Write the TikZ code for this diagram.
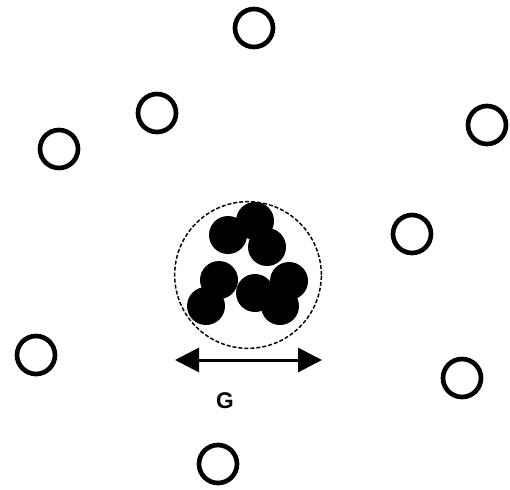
\documentclass[tikz,border=0pt]{standalone}
\usepackage{fontspec}
\setmainfont{Liberation Sans}
\usetikzlibrary{arrows.meta}
\begin{document}
\begin{tikzpicture}[x=0.75pt,y=0.75pt,yscale=-1,xscale=1,
  free/.style={draw,circle,line width=3.5pt,minimum size=28.5pt,inner sep=0pt},
  bound/.style={fill,circle,minimum size=28.5pt,inner sep=0pt},
  gyr/.style={draw,circle,dash pattern=on 3pt off 1.5pt,line width=1.1pt,minimum size=110pt,inner sep=0pt}]
\useasboundingbox (0,0) rectangle (510,489);
\node [free] (f1) at (254,28) {};
\node [free] (f2) at (157,113) {};
\node [free] (f3) at (59,149) {};
\node [free] (f4) at (487,125) {};
\node [free] (f5) at (412,234) {};
\node [free] (f6) at (36,355) {};
\node [free] (f7) at (462,378) {};
\node [free] (f8) at (218,464) {};
\node [gyr] (rg) at (248,275) {};
\node [bound] (b1) at (228,235) {};
\node [bound] (b2) at (255,221) {};
\node [bound] (b3) at (267,247) {};
\node [bound] (b4) at (219,280) {};
\node [bound] (b5) at (206,306) {};
\node [bound] (b6) at (255,293) {};
\node [bound] (b7) at (289,281) {};
\node [bound] (b8) at (280,306) {};
\coordinate (gl) at (175,360);
\coordinate (gr) at (322,360);
\draw [line width=2.25pt,{Triangle[length=18pt,width=18pt]}-{Triangle[length=18pt,width=18pt]}] (gl) -- (gr);
\node [inner sep=0.75pt,font=\fontsize{17}{20}\selectfont\bfseries] (glabel) at (225,401) {G};
\end{tikzpicture}
\end{document}
